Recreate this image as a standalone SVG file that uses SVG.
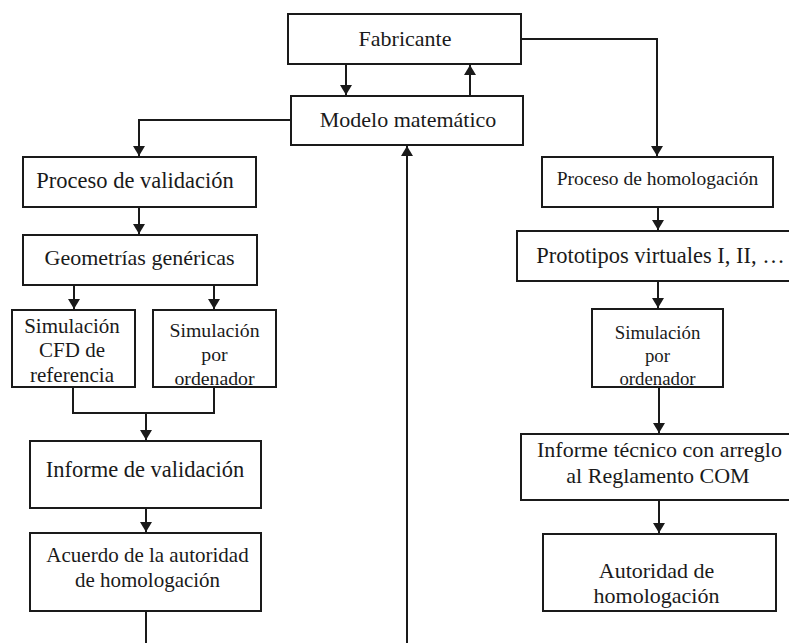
<svg xmlns="http://www.w3.org/2000/svg" width="789" height="643" viewBox="0 0 789 643">
<defs>
<style>
.box{fill:#fff;stroke:#1a1a1a;stroke-width:2}
.ln{fill:none;stroke:#1a1a1a;stroke-width:2}
.t{font-family:"Liberation Serif","Times New Roman",serif;fill:#1a1a1a;text-anchor:middle}
</style>
<marker id="ah" markerUnits="userSpaceOnUse" viewBox="0 0 10 12" refX="10" refY="6" markerWidth="10" markerHeight="12" orient="auto">
<path d="M0,0 L10,6 L0,12 z" fill="#1a1a1a"/>
</marker>
</defs>
<rect width="789" height="643" fill="#fff"/>
<g id="connectors">
<path class="ln" d="M346,64 V95" marker-end="url(#ah)"/>
<path class="ln" d="M470,96 V65" marker-end="url(#ah)"/>
<path class="ln" d="M291,120 H139 V156" marker-end="url(#ah)"/>
<path class="ln" d="M521,39 H657 V156" marker-end="url(#ah)"/>
<path class="ln" d="M407,643 V146" marker-end="url(#ah)"/>
<path class="ln" d="M139,207 V234" marker-end="url(#ah)"/>
<path class="ln" d="M74,285 V309" marker-end="url(#ah)"/>
<path class="ln" d="M214,285 V309" marker-end="url(#ah)"/>
<path class="ln" d="M73,387 V413 H214 V387"/>
<path class="ln" d="M146,413 V440" marker-end="url(#ah)"/>
<path class="ln" d="M146,508 V532" marker-end="url(#ah)"/>
<path class="ln" d="M146,611 V643"/>
<path class="ln" d="M658,207 V230" marker-end="url(#ah)"/>
<path class="ln" d="M658,281 V308" marker-end="url(#ah)"/>
<path class="ln" d="M659,387 V433" marker-end="url(#ah)"/>
<path class="ln" d="M659,500 V533" marker-end="url(#ah)"/>
</g>
<g id="fabricante">
<rect class="box" x="288" y="14" width="233" height="50"/>
<text class="t" x="405" y="46" font-size="22">Fabricante</text>
</g>
<g id="modelo">
<rect class="box" x="291" y="96" width="232" height="49"/>
<text class="t" x="408" y="127" font-size="22">Modelo matemático</text>
</g>
<g id="proceso-validacion">
<rect class="box" x="23" y="157" width="233" height="50"/>
<text class="t" x="135" y="188" font-size="22.5">Proceso de validación</text>
</g>
<g id="proceso-homologacion">
<rect class="box" x="542" y="157" width="231" height="50"/>
<text class="t" x="657.5" y="184.5" font-size="19.5">Proceso de homologación</text>
</g>
<g id="geometrias">
<rect class="box" x="23" y="235" width="234" height="50"/>
<text class="t" x="139.5" y="265" font-size="22">Geometrías genéricas</text>
</g>
<g id="sim-cfd">
<rect class="box" x="12" y="310" width="123" height="77"/>
<text class="t" font-size="21"><tspan x="72" y="333">Simulación</tspan><tspan x="72" y="357">CFD de</tspan><tspan x="72" y="382">referencia</tspan></text>
</g>
<g id="sim-ordenador-izq">
<rect class="box" x="153" y="310" width="123" height="77"/>
<text class="t" font-size="19.8"><tspan x="214.5" y="337">Simulación</tspan><tspan x="214.5" y="361">por</tspan><tspan x="214.5" y="385">ordenador</tspan></text>
</g>
<g id="informe-validacion">
<rect class="box" x="30" y="441" width="231" height="67"/>
<text class="t" x="145" y="477" font-size="22.5">Informe de validación</text>
</g>
<g id="acuerdo">
<rect class="box" x="30" y="533" width="231" height="78"/>
<text class="t" font-size="21"><tspan x="147.5" y="562">Acuerdo de la autoridad</tspan><tspan x="147.5" y="587">de homologación</tspan></text>
</g>
<g id="prototipos">
<rect class="box" x="517" y="231" width="276" height="50"/>
<text class="t" x="660.5" y="263" font-size="22.5">Prototipos virtuales I, II, …</text>
</g>
<g id="sim-ordenador-der">
<rect class="box" x="592" y="309" width="131" height="78"/>
<text class="t" font-size="18.8"><tspan x="657.5" y="339">Simulación</tspan><tspan x="657.5" y="362">por</tspan><tspan x="657.5" y="385">ordenador</tspan></text>
</g>
<g id="informe-tecnico">
<rect class="box" x="521" y="434" width="272" height="66"/>
<text class="t" font-size="22"><tspan x="659.5" y="457">Informe técnico con arreglo</tspan><tspan x="658" y="483">al Reglamento COM</tspan></text>
</g>
<g id="autoridad">
<rect class="box" x="543" y="534" width="233" height="77"/>
<text class="t" font-size="22"><tspan x="656.5" y="578">Autoridad de</tspan><tspan x="656.5" y="603">homologación</tspan></text>
</g>
</svg>
